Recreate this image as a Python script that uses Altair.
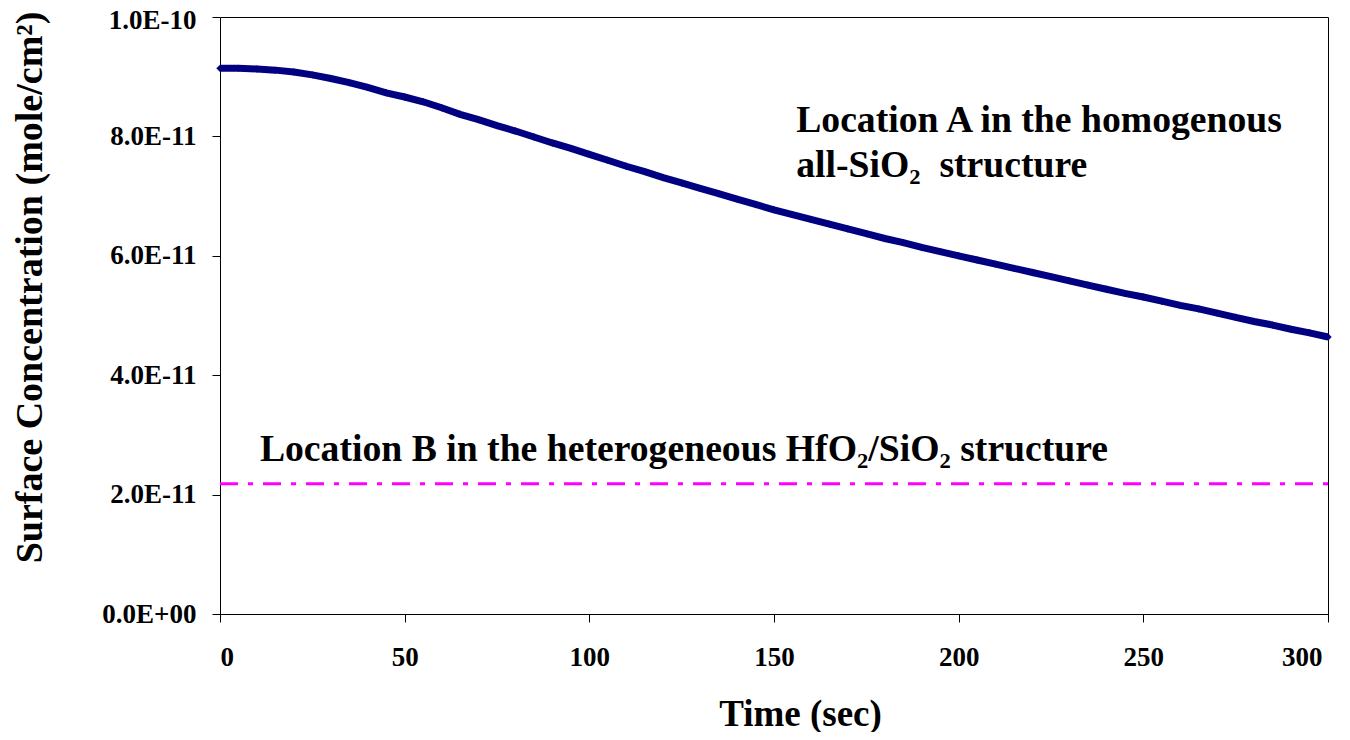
import altair as alt
import pandas as pd

# ---- data ----
TIME_A = list(range(0, 301, 5))  # seconds
CONC_A_E11 = [
    9.14, 9.14, 9.13, 9.11, 9.08, 9.03, 8.97, 8.90, 8.82, 8.73,
    8.66, 8.58, 8.48, 8.37, 8.28, 8.18, 8.09, 7.99, 7.89, 7.80,
    7.70, 7.60, 7.50, 7.41, 7.31, 7.22, 7.13, 7.04, 6.95, 6.86,
    6.77, 6.69, 6.61, 6.53, 6.45, 6.37, 6.29, 6.22, 6.14, 6.07,
    6.00, 5.93, 5.86, 5.79, 5.72, 5.65, 5.58, 5.51, 5.44, 5.37,
    5.31, 5.24, 5.17, 5.11, 5.04, 4.97, 4.90, 4.84, 4.77, 4.71,
    4.64,
]
TIME_B = [0, 300]
CONC_B_E11 = [2.18, 2.18]

X_TICKS = [0, 50, 100, 150, 200, 250, 300]
Y_TICKS_E11 = [0, 2, 4, 6, 8, 10]

NOTE_T = [156.0, 156.0, 10.8]
NOTE_C_E11 = [8.26, 7.50, 2.75]
NOTE_TEXT = [
    "Location A in the homogenous",
    "all-SiO\u2082 \u00a0structure",
    "Location B in the heterogeneous HfO\u2082/SiO\u2082 structure",
]

FONT = "Liberation Serif"

df_a = pd.DataFrame({"t": TIME_A, "c": [v * 1e-11 for v in CONC_A_E11]})
df_b = pd.DataFrame({"t": TIME_B, "c": [v * 1e-11 for v in CONC_B_E11]})
df_n = pd.DataFrame({"t": NOTE_T, "c": [v * 1e-11 for v in NOTE_C_E11], "label": NOTE_TEXT})

x_enc = alt.X(
    "t:Q",
    scale=alt.Scale(domain=[0, 300], nice=False, zero=False),
    axis=alt.Axis(
        values=X_TICKS,
        title="Time (sec)",
        labelPadding=22,
        labelOffset=alt.ConditionalAxisNumber(
            condition={"test": "datum.value == 300", "value": -6}, value=0
        ),
        titleX=580,
        titleY=100,
        titleBaseline="middle",
        titleAnchor="middle",
    ),
)
y_enc = alt.Y(
    "c:Q",
    scale=alt.Scale(domain=[0, 1e-10], nice=False),
    axis=alt.Axis(
        values=[v * 1e-11 for v in Y_TICKS_E11],
        title="Surface Concentration (mole/cm\u00b2)",
        labelExpr="datum.value == 0 ? '0.0E+00' : replace(format(datum.value, '.1e'), 'e', 'E')",
        labelPadding=16,
        labelOffset=alt.ConditionalAxisNumber(
            condition={"test": "datum.value > 9.9e-11", "value": 3}, value=0
        ),
        titleX=-190,
        titleY=270,
        titleFontSize=38,
        titleBaseline="middle",
        titleAnchor="middle",
    ),
)

line_a = alt.Chart(df_a).mark_line(color="#000080", strokeWidth=7).encode(x=x_enc, y=y_enc)
pts_a = alt.Chart(df_a).mark_point(
    shape="diamond", filled=True, color="#000080", size=55, opacity=1
).encode(x="t:Q", y="c:Q")
line_b = alt.Chart(df_b).mark_line(
    color="#FF00FF", strokeWidth=3, strokeDash=[18, 10, 5, 10]
).encode(x="t:Q", y="c:Q")
notes = alt.Chart(df_n).mark_text(
    align="left", baseline="middle", font=FONT, fontSize=37.7, fontWeight="bold", color="black"
).encode(x="t:Q", y="c:Q", text="label:N")

chart = (
    alt.layer(line_b, line_a, pts_a, notes)
    .properties(
        width=1108,
        height=597,
        autosize=alt.AutoSizeParams(type="none"),
        padding={"left": 212, "top": 9, "right": 14, "bottom": 118},
        background="white",
    )
    .configure_view(stroke="#000000", strokeWidth=1)
    .configure_axis(
        grid=False,
        labelFont=FONT,
        labelFontSize=27,
        labelFontWeight="bold",
        labelColor="black",
        titleFont=FONT,
        titleFontSize=37,
        titleFontWeight="bold",
        titleColor="black",
        domainColor="#000000",
        tickColor="#000000",
        tickSize=8,
    )
)

chart.save("out.html", embed_options={"renderer": "svg", "actions": False})
